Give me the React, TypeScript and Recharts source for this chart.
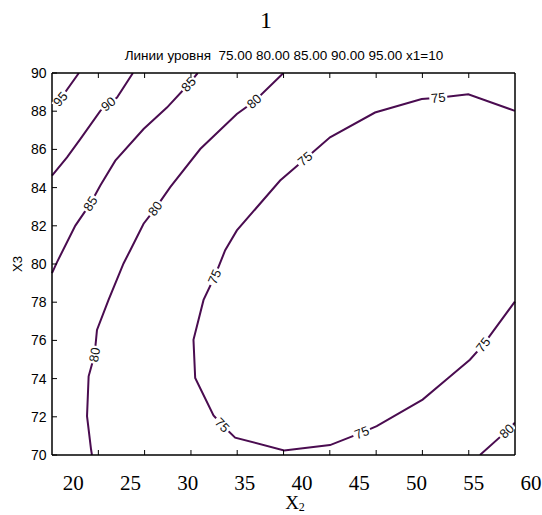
import React from 'react';
import { LineChart, Line, XAxis, YAxis } from 'recharts';

// values, x in the printed X2 units, y in X3
type Pt = { x: number; y: number; lab?: string };

const xLabelTicks = [20, 25, 30, 35, 40, 45, 50, 55, 60];
// the inner tick marks of the plot box don't line up with the printed labels
const xMarkTicks = [22.2, 26.24, 30.29, 34.33, 38.38, 42.42, 46.47, 50.51, 54.56];
const yTicks = [70, 72, 74, 76, 78, 80, 82, 84, 86, 88, 90];

const level95: Pt[] = [
  { x: 18.15, y: 88.37 },
  { x: 18.88, y: 88.64, lab: '95' },
  { x: 20.5, y: 90 },
];

const level90: Pt[] = [
  { x: 18.15, y: 84.63 },
  { x: 19.46, y: 85.58 },
  { x: 20.62, y: 86.54 },
  { x: 22.37, y: 88.02 },
  { x: 23.07, y: 88.38, lab: '90' },
  { x: 23.83, y: 88.71 },
  { x: 25.22, y: 90 },
];

const level85: Pt[] = [
  { x: 18.15, y: 79.52 },
  { x: 18.59, y: 80.1 },
  { x: 20.19, y: 82.01 },
  { x: 21.5, y: 83.16, lab: '85' },
  { x: 22.37, y: 84.11 },
  { x: 23.68, y: 85.41 },
  { x: 26.15, y: 87.07 },
  { x: 28.19, y: 88.19 },
  { x: 30.08, y: 89.41, lab: '85' },
  { x: 30.88, y: 90 },
];

const level80: Pt[] = [
  { x: 21.64, y: 70 },
  { x: 21.56, y: 70.3 },
  { x: 21.21, y: 72.03 },
  { x: 21.35, y: 74.12 },
  { x: 21.87, y: 75.25, lab: '80' },
  { x: 22.08, y: 76.55 },
  { x: 23.09, y: 78.12 },
  { x: 24.4, y: 80.03 },
  { x: 24.99, y: 80.72 },
  { x: 26.15, y: 82.11 },
  { x: 27.17, y: 82.9, lab: '80' },
  { x: 28.48, y: 84.02 },
  { x: 31.1, y: 86.02 },
  { x: 34.3, y: 87.85 },
  { x: 35.81, y: 88.51, lab: '80' },
  { x: 38.37, y: 90 },
];

const level75: Pt[] = [
  { x: 58.59, y: 88.02 },
  { x: 54.52, y: 88.89 },
  { x: 51.9, y: 88.7, lab: '75' },
  { x: 50.45, y: 88.64 },
  { x: 46.37, y: 87.93 },
  { x: 42.44, y: 86.63 },
  { x: 40.26, y: 85.5, lab: '75' },
  { x: 38.08, y: 84.37 },
  { x: 34.3, y: 81.76 },
  { x: 33.28, y: 80.72 },
  { x: 32.35, y: 79.33, lab: '75' },
  { x: 31.39, y: 78.12 },
  { x: 30.51, y: 76.03 },
  { x: 30.66, y: 74.03 },
  { x: 32.26, y: 72.07 },
  { x: 33.02, y: 71.57, lab: '75' },
  { x: 34.15, y: 70.91 },
  { x: 38.43, y: 70.24 },
  { x: 42.44, y: 70.52 },
  { x: 45.21, y: 71.17, lab: '75' },
  { x: 46.52, y: 71.51 },
  { x: 50.53, y: 72.9 },
  { x: 52.77, y: 74.03 },
  { x: 54.66, y: 74.99 },
  { x: 55.82, y: 75.77, lab: '75' },
  { x: 58.59, y: 78.03 },
];

const level80b: Pt[] = [
  { x: 55.54, y: 70 },
  { x: 57.87, y: 71.25, lab: '80' },
  { x: 58.59, y: 71.69 },
];

// level80b is drawn against the top/right axes (same domains) so those get rendered
const levels = [level95, level90, level85, level80, level75];

const X_DOMAIN: [number, number] = [18.15, 58.6];
const Y_DOMAIN: [number, number] = [70, 90];

const W = 542;
const H = 515;
const LEFT = 52;
const RIGHT = 515;
const TOP = 73;
const BOTTOM = 455;

const SANS = "'Liberation Sans', Arial, Helvetica, sans-serif";
const SERIF = "'Liberation Serif', 'Times New Roman', serif";
const LINE = '#4a0c50';

const pxX = (RIGHT - LEFT) / (X_DOMAIN[1] - X_DOMAIN[0]);
const pxY = (BOTTOM - TOP) / (Y_DOMAIN[1] - Y_DOMAIN[0]);

// clabel-style inline label, rotated along the contour
function ContourLabel(props: any) {
  const { cx, cy, index, payload, series } = props;
  if (!payload || !payload.lab || cx == null) return <g key={`n${index}`} />;
  const a = series[index - 1] ?? payload;
  const b = series[index + 1] ?? payload;
  let ang = (Math.atan2(-(b.y - a.y) * pxY, (b.x - a.x) * pxX) * 180) / Math.PI;
  if (ang > 90) ang -= 180;
  if (ang < -90) ang += 180;
  return (
    <g key={`l${index}`} transform={`rotate(${ang} ${cx} ${cy})`}>
      <rect x={cx - 9} y={cy - 4} width={18} height={8} fill="#fff" />
      <text
        x={cx}
        y={cy}
        textAnchor="middle"
        dominantBaseline="central"
        fontFamily={SANS}
        fontSize={13}
        fill="#111"
      >
        {payload.lab}
      </text>
    </g>
  );
}

function XLabelTick(props: any) {
  const { x, payload } = props;
  return (
    <text x={x} y={BOTTOM + 35} textAnchor="middle" fontFamily={SERIF} fontSize={21} fill="#000">
      {payload.value}
    </text>
  );
}

function InnerMarks(props: any) {
  const { x } = props;
  return (
    <g>
      <line x1={x} x2={x} y1={TOP} y2={TOP + 5} stroke="#000" />
      <line x1={x} x2={x} y1={BOTTOM} y2={BOTTOM - 5} stroke="#000" />
    </g>
  );
}

function TitleBlock() {
  return (
    <g>
      <text x={266} y={28} textAnchor="middle" fontFamily={SERIF} fontSize={24} fill="#000">
        1
      </text>
      <text x={284} y={60} textAnchor="middle" fontFamily={SANS} fontSize={13.5} fill="#000" style={{ whiteSpace: 'pre' }}>
        {'Линии уровня  75.00 80.00 85.00 90.00 95.00 x1=10'}
      </text>
    </g>
  );
}

function XTitle() {
  return (
    <text x={295} y={509} textAnchor="middle" fontFamily={SERIF} fontSize={19} fill="#000">
      X<tspan fontSize={12} dy={2}>2</tspan>
    </text>
  );
}

function YTitle(props: any) {
  const vb = props.viewBox || { y: TOP, height: BOTTOM - TOP };
  const cx = 17;
  const cy = vb.y + vb.height / 2;
  return (
    <text
      x={cx}
      y={cy}
      transform={`rotate(-90 ${cx} ${cy})`}
      textAnchor="middle"
      dominantBaseline="central"
      fontFamily={SANS}
      fontSize={13}
      fill="#000"
    >
      X3
    </text>
  );
}

export default function App() {
  return (
    <div style={{ width: W, height: H, background: '#fff' }}>
      <style>{'body{margin:0;background:#fff}'}</style>
      <LineChart width={W} height={H} margin={{ top: TOP - 1, right: W - RIGHT - 1, bottom: 0, left: 0 }}>
        <XAxis
          type="number"
          dataKey="x"
          domain={X_DOMAIN}
          ticks={xLabelTicks}
          interval={0}
          height={H - BOTTOM}
          tickLine={false}
          axisLine={{ stroke: '#000', strokeWidth: 1.5 }}
          tick={<XLabelTick />}
          label={{ content: <XTitle /> }}
        />
        <XAxis
          xAxisId="t"
          orientation="top"
          type="number"
          dataKey="x"
          domain={X_DOMAIN}
          allowDataOverflow
          ticks={xMarkTicks}
          interval={0}
          height={1}
          tickLine={false}
          axisLine={{ stroke: '#000', strokeWidth: 1.5 }}
          tick={<InnerMarks />}
          label={{ content: <TitleBlock /> }}
        />
        <YAxis
          type="number"
          domain={Y_DOMAIN}
          allowDataOverflow
          ticks={yTicks}
          interval={0}
          width={LEFT}
          tickSize={-5}
          tickMargin={10.5}
          tickLine={{ stroke: '#000' }}
          axisLine={{ stroke: '#000', strokeWidth: 1.5 }}
          tick={{ fontFamily: SANS, fontSize: 14, fill: '#000' }}
          label={{ content: <YTitle /> }}
        />
        <YAxis
          yAxisId="r"
          orientation="right"
          type="number"
          domain={Y_DOMAIN}
          allowDataOverflow
          ticks={yTicks}
          interval={0}
          width={1}
          tickSize={-5}
          tick={false}
          tickLine={{ stroke: '#000' }}
          axisLine={{ stroke: '#000', strokeWidth: 1.5 }}
        />
        {levels.map((series, i) => (
          <Line
            key={i}
            data={series}
            dataKey="y"
            type="linear"
            stroke={LINE}
            strokeWidth={2}
            isAnimationActive={false}
            activeDot={false}
            dot={(p: any) => <ContourLabel {...p} key={`d${i}-${p.index}`} series={series} />}
          />
        ))}
        <Line
          data={level80b}
          xAxisId="t"
          yAxisId="r"
          dataKey="y"
          type="linear"
          stroke={LINE}
          strokeWidth={2}
          isAnimationActive={false}
          activeDot={false}
          dot={(p: any) => <ContourLabel {...p} key={`e-${p.index}`} series={level80b} />}
        />
      </LineChart>
    </div>
  );
}
